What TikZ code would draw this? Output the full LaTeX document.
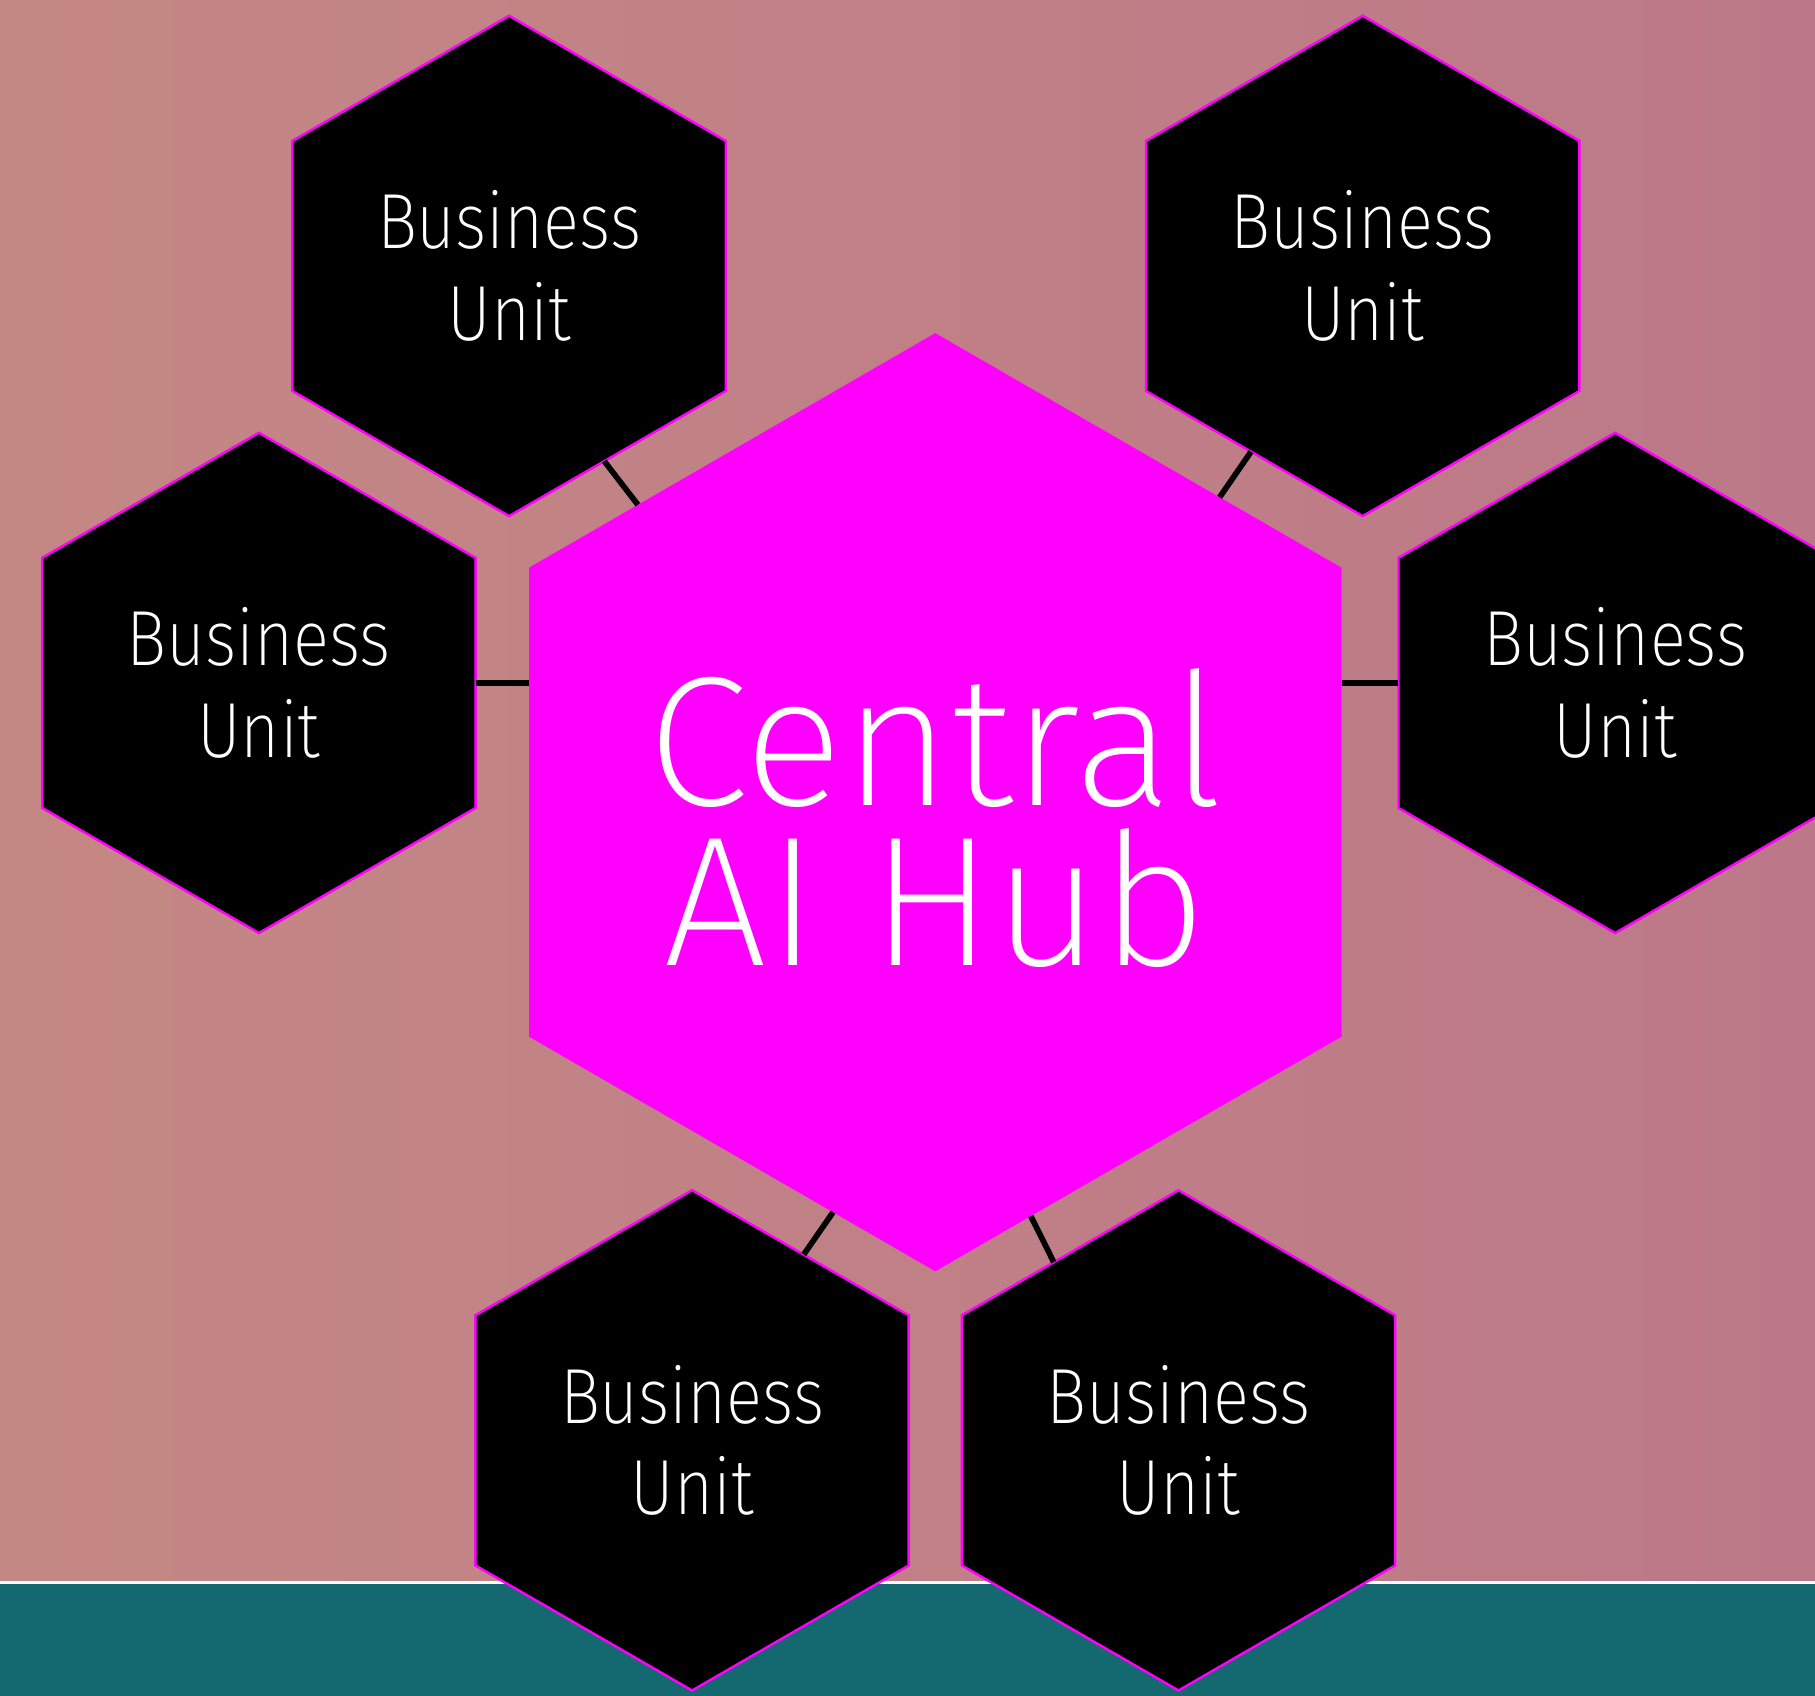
\documentclass[tikz,border=0pt]{standalone}
\usepackage{fontspec}
\setmainfont{Fira Sans}[UprightFont={* ExtraLight}]
\newfontfamily\unitfont{Fira Sans}[UprightFont={* ExtraLight},FakeStretch=0.86]
\usetikzlibrary{positioning,shapes.geometric}
\definecolor{bgleft}{HTML}{C48884}
\definecolor{bgright}{HTML}{BC7888}
\definecolor{hubpink}{HTML}{FF00FF}
\definecolor{footteal}{HTML}{146870}

\begin{document}
\begin{tikzpicture}[x=0.01cm,y=-0.01cm,on grid,
	hexa/.style={regular polygon,regular polygon sides=6,regular polygon rotate=30,inner sep=0pt,outer sep=0pt},
	unit/.style={hexa,minimum size=4.32cm,fill=black,draw=hubpink,line width=0.6pt,text=white,align=center,font=\unitfont\fontsize{19.2}{22.5}\selectfont},
	hub/.style={hexa,minimum size=8.1cm,fill=hubpink},
	link/.style={line width=1.4pt,black}]
	\useasboundingbox (0,0) rectangle (1568,1465);
	\shade[left color=bgleft,right color=bgright] (0,0) rectangle (1568,1465);
	\fill[footteal] (0,1368) rectangle (1568,1465);
	\draw[white,line width=0.6pt] (0,1367) -- (1568,1367);
	
	\node[hub](hub) at (808,693){};
	\node[text=white,align=center,font=\fontsize{45.4}{39.3}\selectfont](hubtext) at ([yshift=-0.135cm]hub.center){Central\\AI Hub};
	
	\node[unit,above left=4.63cm and 3.68cm of hub](bu1){Business\\Unit};
	\node[unit,above right=4.63cm and 3.69cm of hub](bu2){Business\\Unit};
	\node[unit,above left=1.03cm and 5.84cm of hub](bu3){Business\\Unit};
	\node[unit,above right=1.03cm and 5.87cm of hub](bu4){Business\\Unit};
	\node[unit,below left=5.51cm and 2.10cm of hub](bu5){Business\\Unit};
	\node[unit,below right=5.51cm and 2.10cm of hub](bu6){Business\\Unit};
	
	\draw[link] (bu1.-64) -- (hub.135);
	\draw[link] (bu2.-121) -- (hub.47);
	\draw[link] (bu3.east) -- (bu3.east -| hub.west);
	\draw[link] (bu4.west) -- (bu4.west -| hub.east);
	\draw[link] (hub.-104) -- (bu5.59);
	\draw[link] (hub.-77) -- (bu6.125);
\end{tikzpicture}
\end{document}
